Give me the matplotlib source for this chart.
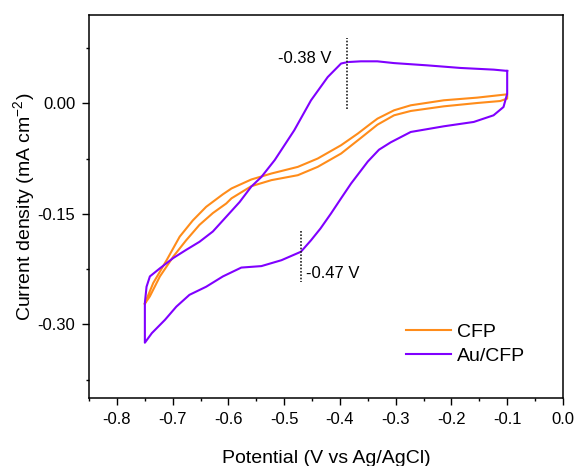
import numpy as np
import matplotlib
matplotlib.use("Agg")
import matplotlib.pyplot as plt
from matplotlib.ticker import MultipleLocator

plt.rcParams['font.family'] = ['Liberation Sans', 'DejaVu Sans']
plt.rcParams['mathtext.fontset'] = 'custom'
plt.rcParams['mathtext.rm'] = 'Liberation Sans'
plt.rcParams['mathtext.it'] = 'Liberation Sans:italic'

# CFP loop: outer (upper) branch left->right, then inner (lower) branch right->left
cfp_x = [-0.750, -0.747, -0.735, -0.711, -0.6875, -0.664, -0.640, -0.610, -0.5946,
         -0.559, -0.523, -0.4756, -0.440, -0.398, -0.368, -0.3446, -0.3327, -0.303,
         -0.273, -0.2137, -0.154, -0.100,
         -0.100, -0.1125, -0.154, -0.2137, -0.273, -0.303, -0.3327, -0.3625, -0.398,
         -0.440, -0.4756, -0.523, -0.559, -0.5946, -0.604, -0.628, -0.652, -0.676,
         -0.699, -0.723, -0.741, -0.750]
cfp_y = [-0.272, -0.266, -0.244, -0.213, -0.181, -0.159, -0.1405, -0.1235, -0.1156,
         -0.1034, -0.0953, -0.0863, -0.0750, -0.0569, -0.0411, -0.0275, -0.0208, -0.0095,
         -0.0027, 0.0041, 0.0077, 0.0122,
         0.0064, 0.0031, 0.0004, -0.0041, -0.0104, -0.0163, -0.0290, -0.0470, -0.0682,
         -0.0863, -0.0976, -0.1043, -0.1125, -0.129, -0.136, -0.149, -0.165, -0.186,
         -0.208, -0.235, -0.262, -0.272]

# Au/CFP loop: right edge down, cathodic branch leftwards, anodic branch back
au_x = [-0.100, -0.100, -0.1066, -0.1245, -0.160, -0.2137, -0.273, -0.309, -0.330,
        -0.350, -0.380, -0.398, -0.416, -0.435, -0.452, -0.470, -0.505, -0.541,
        -0.577, -0.610, -0.640, -0.670, -0.6935, -0.714, -0.7375, -0.750,
        -0.750, -0.750, -0.747, -0.741, -0.723, -0.699, -0.676, -0.652, -0.628,
        -0.604, -0.580, -0.559, -0.541, -0.517, -0.482, -0.452, -0.422, -0.398,
        -0.386, -0.3625, -0.333, -0.303, -0.243, -0.184, -0.124, -0.100]
au_y = [0.044, 0.013, -0.005, -0.0163, -0.0253, -0.0312, -0.0389, -0.0530, -0.0630,
        -0.0790, -0.1088, -0.129, -0.1495, -0.170, -0.186, -0.2015, -0.213, -0.221,
        -0.223, -0.235, -0.249, -0.260, -0.276, -0.294, -0.312, -0.325,
        -0.300, -0.271, -0.249, -0.235, -0.224, -0.210, -0.199, -0.188, -0.174,
        -0.154, -0.134, -0.113, -0.100, -0.077, -0.0366, 0.004, 0.0356, 0.054,
        0.056, 0.057, 0.057, 0.0546, 0.0515, 0.048, 0.0457, 0.044]

# peak markers
ox_peak = -0.387
red_peak = -0.470

fig = plt.figure(figsize=(5.75, 4.66), dpi=100)
ax = fig.add_axes([0.155, 0.146, 0.824, 0.822])

ax.plot(cfp_x, cfp_y, color='#FF8C1A', lw=1.5, label='CFP')
ax.plot(au_x, au_y, color='#8000FF', lw=1.5, label='Au/CFP')

ax.plot([ox_peak, ox_peak], [-0.008, 0.089], color='#222222', lw=1.2,
        linestyle=(0, (1, 1)))
ax.plot([red_peak, red_peak], [-0.174, -0.242], color='#222222', lw=1.2,
        linestyle=(0, (1, 1)))
ax.text(-0.416, 0.061, '-0.38 V', fontsize=12, ha='right', va='center')
ax.text(-0.461, -0.231, '-0.47 V', fontsize=12, ha='left', va='center')

ax.set_xlim(-0.85, 0.0)
ax.set_ylim(-0.40, 0.12)
ax.xaxis.set_minor_locator(MultipleLocator(0.05))
ax.yaxis.set_minor_locator(MultipleLocator(0.075))
ax.set_xticks(np.arange(-0.8, 0.01, 0.1))
ax.set_xticklabels(['-0.8', '-0.7', '-0.6', '-0.5', '-0.4', '-0.3', '-0.2', '-0.1', '0.0'])
ax.set_yticks([0.0, -0.15, -0.30])
ax.set_yticklabels(['0.00', '-0.15', '-0.30'])
ax.tick_params(which='major', direction='out', length=5, width=1, labelsize=12, pad=5)
ax.tick_params(which='minor', direction='out', length=2.5, width=1)
for s in ax.spines.values():
    s.set_linewidth(1.1)

ax.set_xlabel('Potential (V vs Ag/AgCl)', fontsize=14, labelpad=17)
ax.set_ylabel('Current density (mA cm$^{-2}$)', fontsize=14, labelpad=0.5)

ax.legend(loc='upper left', bbox_to_anchor=(0.669, 0.194), frameon=False,
          fontsize=14, handlelength=2.3, handletextpad=0.3, borderpad=0,
          borderaxespad=0, labelspacing=0.3)

fig.savefig('out.png', dpi=100)
